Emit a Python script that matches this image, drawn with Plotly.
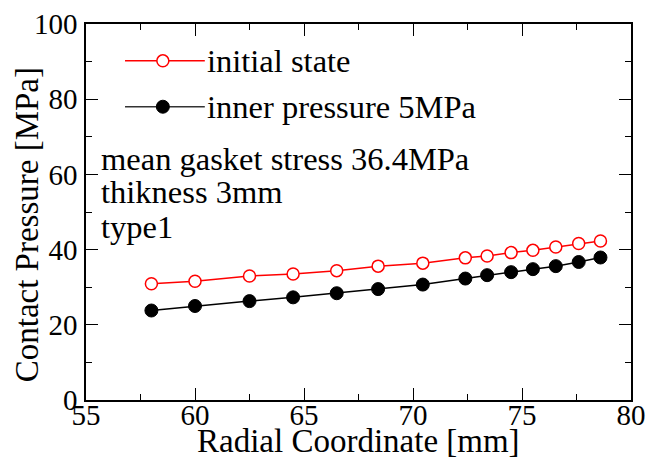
import plotly.graph_objects as go

radius_mm = [58.0, 60.0, 62.5, 64.5, 66.5, 68.4, 70.45, 72.4, 73.4, 74.5, 75.5, 76.55, 77.6, 78.6]
initial_state = [30.9, 31.6, 33.0, 33.5, 34.4, 35.6, 36.4, 37.8, 38.3, 39.2, 39.8, 40.7, 41.6, 42.3]
inner_pressure_5mpa = [23.8, 25.0, 26.3, 27.3, 28.4, 29.5, 30.7, 32.3, 33.2, 34.0, 34.8, 35.6, 36.7, 37.9]

series_names = ["initial state", "inner pressure 5MPa"]
note_lines = ["mean gasket stress 36.4MPa", "thikness 3mm", "type1"]
x_title = "Radial Coordinate [mm]"
y_title = "Contact Pressure [MPa]"

FONT = "Liberation Serif"
TXT = 32.5

fig = go.Figure()
fig.add_trace(go.Scatter(
    x=radius_mm, y=initial_state, mode="lines+markers", name=series_names[0],
    line=dict(color="#ff0000", width=1.5),
    marker=dict(symbol="circle", size=12, color="white", line=dict(color="#ff0000", width=1.5)),
    showlegend=False))
fig.add_trace(go.Scatter(
    x=radius_mm, y=inner_pressure_5mpa, mode="lines+markers", name=series_names[1],
    line=dict(color="black", width=1.5),
    marker=dict(symbol="circle", size=13, color="black", line=dict(color="black", width=1)),
    showlegend=False))

# custom legend samples on an overlay axis (0..1 coordinates of the plot area)
leg_rows = [0.902, 0.780]
leg_styles = [
    dict(line=dict(color="#ff0000", width=1.5),
         marker=dict(size=12, color="white", line=dict(color="#ff0000", width=1.5))),
    dict(line=dict(color="#333333", width=1.5),
         marker=dict(size=13, color="black", line=dict(color="black", width=1))),
]
for yy, st in zip(leg_rows, leg_styles):
    fig.add_trace(go.Scatter(x=[0.0716, 0.218], y=[yy, yy], mode="lines", line=st["line"],
                             xaxis="x2", yaxis="y2", showlegend=False, hoverinfo="skip"))
    fig.add_trace(go.Scatter(x=[0.141], y=[yy], mode="markers", marker=st["marker"],
                             xaxis="x2", yaxis="y2", showlegend=False, hoverinfo="skip"))
for yy, name in zip(leg_rows, series_names):
    fig.add_annotation(x=0.219, y=yy, xref="x2", yref="y2", text=name, showarrow=False,
                       xanchor="left", yanchor="middle", font=dict(family=FONT, size=TXT, color="black"))

note_y = [0.640, 0.553, 0.460]
for yy, t in zip(note_y, note_lines):
    fig.add_annotation(x=0.024, y=yy, xref="x2", yref="y2", text=t, showarrow=False,
                       xanchor="left", yanchor="middle", font=dict(family=FONT, size=TXT, color="black"))

# axis titles
fig.add_annotation(x=0.5, y=-0.109, xref="paper", yref="paper", text=x_title, showarrow=False,
                   xanchor="center", yanchor="middle", font=dict(family=FONT, size=33, color="black"))
fig.add_annotation(x=-0.108, y=0.465, xref="paper", yref="paper", text=y_title, showarrow=False,
                   textangle=-90, xanchor="center", yanchor="middle",
                   font=dict(family=FONT, size=33, color="black"))

axis_common = dict(
    showline=True, linecolor="black", linewidth=1.5, mirror="allticks",
    ticks="inside", ticklen=12, tickwidth=1.2, tickcolor="black",
    showgrid=False, zeroline=False, automargin=False,
    tickfont=dict(family=FONT, size=29, color="black"),
)
# the page body adds an 8 px offset, so the figure is 8 px smaller on each side
fig.update_layout(
    width=653, height=456,
    margin=dict(l=78, r=30, t=16, b=64),
    paper_bgcolor="white", plot_bgcolor="white",
    font=dict(family=FONT, color="black"),
    xaxis=dict(range=[55, 80], dtick=5, tick0=55, ticklabelstandoff=-12,
               minor=dict(dtick=2.5, ticks="inside", ticklen=6, tickcolor="black"),
               **axis_common),
    yaxis=dict(range=[0, 100], dtick=20, tick0=0, ticklabelstandoff=1,
               minor=dict(dtick=10, ticks="inside", ticklen=6, tickcolor="black"),
               **axis_common),
    xaxis2=dict(overlaying="x", range=[0, 1], visible=False),
    yaxis2=dict(overlaying="y", range=[0, 1], visible=False),
)

fig.write_html("out.html")
